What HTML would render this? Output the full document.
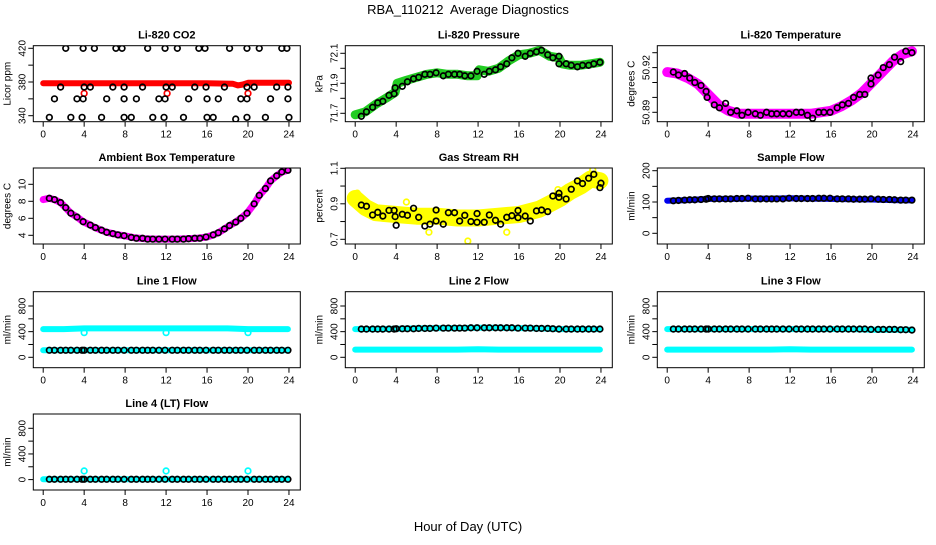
<!DOCTYPE html>
<html><head><meta charset="utf-8">
<style>
html,body{margin:0;padding:0;background:#fff;}
svg text{font-family:"Liberation Sans",Arial,sans-serif;fill:#000;}
</style></head>
<body>
<svg id="c" width="936" height="540" viewBox="0 0 936 540" xmlns="http://www.w3.org/2000/svg">
<rect width="936" height="540" fill="#fff"/>
<text x="468" y="14" text-anchor="middle" font-size="13" style="white-space:pre">RBA_110212&#160; Average Diagnostics</text>
<text x="468" y="531" text-anchor="middle" font-size="13">Hour of Day (UTC)</text>
</svg>
<script>
const xTicks = [0,4,8,12,16,20,24];
const flowHours = [0.6,1.1,1.7,2.2,2.7,3.3,3.8,4.0,4.6,5.1,5.7,6.2,6.8,7.3,7.9,8.6,9.1,9.7,10.2,10.7,11.3,11.9,12.6,13.1,13.7,14.2,14.8,15.3,15.9,16.6,17.1,17.7,18.2,18.8,19.3,19.9,20.6,21.1,21.7,22.2,22.8,23.3,23.9];
const bandHours = [0,2,4,6,8,10,12,14,16,18,20,22,23.9];

// CO2
const co2BandHours = [0,4,8,12,16,18.5,19,19.5,20,24];
const co2Band = [378.5,378.5,378.5,378.5,378.5,378,376,377,379,379];
const co2PtHours = [2.2,3.9,5.0,7.1,7.7,10.2,11.9,13.1,15.2,15.8,18.2,19.9,21.1,23.3,23.8,
 1.7,4.0,4.6,6.8,7.9,9.7,12.0,12.6,14.8,15.9,17.7,19.9,20.6,22.8,23.9,
 1.1,3.3,3.9,6.2,7.9,9.1,11.3,11.9,14.2,16.0,17.1,19.3,19.9,22.2,23.9,
 0.6,2.7,3.8,5.7,7.9,8.6,10.7,11.8,13.7,16.0,16.6,18.8,19.9,21.7,24.0];
const co2Pts = [420,420,420,420,420,420,420,420,420,420,420,420,420,420,420,
 374,374,374,374,374,374,374,374,374,374,374,374,374,374,374,
 360,360,360,360,360,360,360,360,360,360,360,360,360,360,360,
 338,338,338,338,338,338,338,338,338,338,338,336,338,338,338];
const co2OutHours = [4.0,12.1,20.0];
const co2Out = [366.5,366.5,366.5];

// Pressure
const presBandHours = [0,1,2,3,3.9,4.1,5,6,7,8,9,10,11,11.9,12.1,13,14,15,16,17,18,19,19.9,20.2,21,22,23,23.9];
const presBand = [71.69,71.71,71.76,71.8,71.84,71.9,71.92,71.94,71.96,71.97,71.96,71.96,71.95,71.95,71.99,71.98,72.0,72.05,72.09,72.1,72.12,72.08,72.07,72.03,72.02,72.02,72.03,72.04];
const presPtHours = [0.6,1.1,1.7,2.2,2.7,3.3,3.8,3.9,4.6,5.1,5.7,6.2,6.8,7.3,7.9,8.6,9.1,9.7,10.2,10.7,11.3,11.9,12.6,13.1,13.7,14.2,14.8,15.3,15.9,16.6,17.1,17.7,18.2,18.8,19.3,19.9,19.9,20.6,21.1,21.7,22.2,22.8,23.3,23.9];
const presPts = [71.68,71.71,71.74,71.77,71.78,71.82,71.83,71.87,71.88,71.91,71.93,71.94,71.96,71.96,71.97,71.95,71.96,71.96,71.96,71.95,71.95,71.98,71.96,71.98,71.99,72.01,72.03,72.07,72.10,72.08,72.10,72.11,72.12,72.09,72.07,72.08,72.03,72.03,72.02,72.01,72.02,72.02,72.03,72.04];

// Li-820 temperature
const ltBandHours = [0,1,2,3,4,5,6,7,8,10,12,14,15,16,17,18,19,20,21,22,23,23.9];
const ltBand = [50.917,50.916,50.913,50.909,50.902,50.895,50.891,50.889,50.889,50.889,50.889,50.889,50.890,50.891,50.894,50.898,50.903,50.910,50.917,50.924,50.929,50.931];
const ltPtHours = [0.6,1.1,1.7,2.2,2.7,3.3,3.8,3.9,4.6,5.1,5.7,6.2,6.8,7.3,7.9,8.6,9.1,9.7,10.2,10.7,11.3,11.9,12.6,13.1,13.7,14.2,14.8,15.3,15.9,16.6,17.1,17.7,18.2,18.8,19.3,19.9,19.9,20.6,21.1,21.7,22.2,22.8,23.3,23.9];
const ltPts = [50.917,50.915,50.916,50.913,50.910,50.908,50.904,50.900,50.895,50.893,50.896,50.890,50.891,50.888,50.890,50.889,50.888,50.890,50.889,50.889,50.889,50.889,50.890,50.890,50.888,50.886,50.890,50.890,50.890,50.893,50.895,50.896,50.900,50.902,50.902,50.909,50.913,50.915,50.920,50.922,50.927,50.924,50.931,50.930];

// Ambient box temperature
const ambBandHours = [0,0.6,1.1,1.7,2.2,2.7,3.3,3.9,4.6,5.1,5.7,6.2,6.8,7.3,7.9,9,10,11,12,13,14,15,16,16.6,17.1,17.7,18.2,18.8,19.3,19.9,20.6,21.1,21.7,22.2,22.8,23.3,23.9];
const ambBand = [8.2,8.35,8.2,7.85,7.25,6.6,6.15,5.6,5.2,4.9,4.6,4.35,4.2,4.05,3.95,3.7,3.6,3.55,3.55,3.55,3.6,3.65,3.8,4.05,4.3,4.75,5.15,5.55,6.0,6.6,7.7,8.7,9.5,10.4,11.0,11.45,11.65];
const ambPtHours = [0.6,1.1,1.7,2.2,2.7,3.3,3.9,4.6,5.1,5.7,6.2,6.8,7.3,7.9,8.6,9.1,9.7,10.2,10.7,11.3,11.9,12.6,13.1,13.7,14.2,14.8,15.3,15.9,16.6,17.1,17.7,18.2,18.8,19.3,19.9,20.6,21.1,21.7,22.2,22.8,23.3,23.9];
const ambPts = [8.35,8.2,7.85,7.25,6.6,6.15,5.6,5.2,4.9,4.6,4.35,4.2,4.05,3.95,3.75,3.65,3.65,3.55,3.55,3.55,3.55,3.55,3.55,3.55,3.6,3.65,3.65,3.8,4.05,4.3,4.75,5.15,5.55,6.0,6.6,7.7,8.7,9.5,10.4,11.0,11.45,11.65];

// Gas stream RH
const rhBandHours = [0,1,2,4,6,8,10,12,14,16,18,19,20,21,22,23,23.9];
const rhBand = [0.93,0.88,0.85,0.84,0.83,0.83,0.82,0.82,0.83,0.84,0.87,0.9,0.93,0.97,1.0,1.04,1.03];
const rhOutHours = [0.2,5.0,7.2,11.0,14.8,19.8,23.2];
const rhOut = [0.96,0.91,0.74,0.69,0.74,0.98,1.09];
const rhPtHours = [0.6,1.1,1.7,2.2,2.7,3.3,3.8,3.9,4.0,4.6,5.1,5.7,6.2,6.8,7.3,7.9,7.9,8.6,9.1,9.7,10.2,10.7,11.3,11.9,11.9,12.6,13.1,13.7,14.2,14.8,15.3,15.9,15.9,16.6,17.1,17.7,18.2,18.8,19.3,19.9,19.9,20.6,21.1,21.7,22.2,22.8,23.3,23.9,24.0];
const rhPts = [0.893,0.886,0.837,0.852,0.831,0.863,0.863,0.828,0.779,0.841,0.835,0.875,0.824,0.775,0.785,0.865,0.803,0.785,0.850,0.850,0.803,0.835,0.800,0.845,0.796,0.796,0.837,0.807,0.785,0.824,0.833,0.862,0.822,0.831,0.803,0.860,0.865,0.856,0.944,0.959,0.937,0.927,0.982,1.029,1.014,1.044,1.066,0.991,1.016];

// Sample flow
const sfBand = [104,106,110,110,111,111,112,111,110,109,108,106,105];
const sfPts = [104,105,106,107,107,108,109,111,110,110,110,110,111,111,112,110,110,110,110,110,110,112,111,111,111,111,112,112,112,110,110,110,109,109,109,110,109,108,108,107,106,106,106];

// Line flows
const l1BandHi = [440,440,450,450,450,450,450,450,450,450,440,440,440];
const l1BandLo = [110,110,110,110,110,110,110,110,110,110,110,110,110];
const l1Pts = [110,110,110,110,110,110,110,110,110,110,110,110,110,110,110,110,110,110,110,110,110,110,110,110,110,110,110,110,110,110,110,110,110,110,110,110,110,110,110,110,110,110,110];
const l1OutHours = [4.0,12.0,20.0];
const l1Out = [385,385,385];
const l2BandHi = [440,440,445,450,455,455,460,460,455,450,440,440,440];
const l2BandLo = [120,120,120,120,120,120,125,120,120,120,120,120,120];
const l2Pts = [440,440,440,440,440,440,440,445,445,445,445,450,450,450,455,455,455,455,455,455,460,460,460,460,460,460,460,460,455,455,455,450,450,450,445,440,440,440,440,440,440,440,440];
const l3BandHi = [440,440,440,440,440,440,440,440,440,440,430,430,430];
const l3BandLo = [120,120,120,120,120,120,125,120,120,120,120,120,120];
const l3Pts = [440,440,440,440,440,440,440,440,440,440,440,440,440,440,440,440,440,440,440,440,440,440,440,440,440,440,440,440,440,440,440,440,440,440,440,435,435,435,435,435,430,430,425];
const l4Band = [5,5,5,5,5,5,5,5,5,5,5,5,5];
const l4Pts = [5,5,5,5,5,5,5,5,5,5,5,5,5,5,5,5,5,5,5,5,5,5,5,5,5,5,5,5,5,5,5,5,5,5,5,5,5,5,5,5,5,5,5];
const l4OutHours = [4.0,12.0,20.0];
const l4Out = [135,135,135];

const NS = "http://www.w3.org/2000/svg";
const svg = document.getElementById('c');
const colLeft = [33.3,345.3,657.3];
const rowTop = [45.7,168,291.7,414];
const BW = 267, BH = 76;

function mk(tag, attrs, parent){
  const e = document.createElementNS(NS, tag);
  for (const k in attrs) e.setAttribute(k, attrs[k]);
  (parent||svg).appendChild(e);
  return e;
}

function panel(p){
  const L = colLeft[p.col], T = rowTop[p.row];
  const g = mk('g', {});
  
  
  const xs = h => L + 9.9 + h * 10.24;
  const ys = v => T + p.a[1] + (v - p.a[0]) * (p.b[1] - p.a[1]) / (p.b[0] - p.a[0]);
  p.xs = xs; p.ys = ys; p.g = g;
  const t = mk('text', {x: L + BW/2, y: T - 7, 'text-anchor': 'middle', 'font-size': 11, 'font-weight': 'bold'}, g);
  t.textContent = p.title;
  
  
  const yl = mk('text', {x: 0, y: 0, 'text-anchor': 'middle', 'font-size': 10, transform: `translate(${L-23},${T+BH/2}) rotate(-90)`}, g);
  yl.textContent = p.ylab;
  
  
  xTicks.forEach(h => {
    mk('line', {x1: xs(h), x2: xs(h), y1: T+BH, y2: T+BH+5, stroke: '#000', 'stroke-width': 1}, g);
    const tl = mk('text', {x: xs(h), y: T+BH+16, 'text-anchor': 'middle', 'font-size': 10}, g);
    tl.textContent = h;
    
    
  });
  p.yticks.forEach(v => {
    mk('line', {x1: L-5, x2: L, y1: ys(v), y2: ys(v), stroke: '#000', 'stroke-width': 1}, g);
  });
  p.ylabels.forEach((v, i) => {
    const lab = mk('text', {x: 0, y: 0, 'text-anchor': 'middle', 'font-size': 10, transform: `translate(${L-8},${ys(v)}) rotate(-90)`}, g);
    lab.textContent = p.ylabelText ? p.ylabelText[i] : v;
    
    
  });
  const clip = mk('clipPath', {id: 'clip-' + p.name}, g);
  mk('rect', {x: L, y: T, width: BW, height: BH}, clip);
  p.plot = mk('g', {'clip-path': `url(#clip-${p.name})`}, g);
  p.L = L; p.T = T;
  return p;
}

function band(p, hours, vals, color, width, nm){
  const pts = hours.map((h, i) => `${p.xs(h).toFixed(1)},${p.ys(vals[i]).toFixed(1)}`).join(' ');
  const pl = mk('polyline', {points: pts, fill: 'none', stroke: color, 'stroke-width': width, 'stroke-linecap': 'round', 'stroke-linejoin': 'round'}, p.plot);
  
  
}
function circles(p, hours, vals, color, nm, r){
  hours.forEach((h, i) => {
    const c = mk('circle', {cx: p.xs(h), cy: p.ys(vals[i]), r: r || 2.8, fill: 'none', stroke: color, 'stroke-width': 1.7}, p.plot);
    
    
  });
}
function frame(p){
  const b = mk('rect', {x: p.L, y: p.T, width: BW, height: BH, fill: 'none', stroke: '#000', 'stroke-width': 1}, p.g);
  
  
}

let p;
p = panel({name:'co2', title:'Li-820 CO2', ylab:'Licor ppm', col:0,row:0, a:[420,2.6], b:[340,70], yticks:[340,360,380,400,420], ylabels:[340,380,420]});
band(p, co2BandHours, co2Band, '#ff0000', 6, 'co2-band');
circles(p, co2OutHours, co2Out, '#ff0000', 'co2-outlier');
circles(p, co2PtHours, co2Pts, '#000', 'co2-average-point');
frame(p);

p = panel({name:'pressure', title:'Li-820 Pressure', ylab:'kPa', col:1,row:0, a:[72.1,7.6], b:[71.7,67.6], yticks:[71.7,71.8,71.9,72.0,72.1], ylabels:[71.7,71.9,72.1], ylabelText:['71.7','71.9','72.1']});
band(p, presBandHours, presBand, '#22cc22', 9, 'pressure-band');
circles(p, presPtHours, presPts, '#000', 'pressure-average-point');
frame(p);

p = panel({name:'licor-temp', title:'Li-820 Temperature', ylab:'degrees C', col:2,row:0, a:[50.92,21.9], b:[50.89,66.6], yticks:[50.89,50.90,50.91,50.92,50.93], ylabels:[50.89,50.92], ylabelText:['50.89','50.92']});
band(p, ltBandHours, ltBand, '#ff00ff', 10, 'licor-temp-band');
circles(p, ltPtHours, ltPts, '#000', 'licor-temp-average-point');
frame(p);

p = panel({name:'ambient-temp', title:'Ambient Box Temperature', ylab:'degrees C', col:0,row:1, a:[10,16.3], b:[4,67.3], yticks:[4,6,8,10], ylabels:[4,6,8,10]});
band(p, ambBandHours, ambBand, '#ff00ff', 7, 'ambient-temp-band');
circles(p, ambPtHours, ambPts, '#000', 'ambient-temp-average-point');
frame(p);

p = panel({name:'rh', title:'Gas Stream RH', ylab:'percent', col:1,row:1, a:[1.1,0.3], b:[0.7,71.3], yticks:[0.7,0.8,0.9,1.0,1.1], ylabels:[0.7,0.9,1.1], ylabelText:['0.7','0.9','1.1']});
band(p, rhBandHours, rhBand, '#ffff00', 17, 'rh-band');
circles(p, rhOutHours, rhOut, '#ffff00', 'rh-outlier');
circles(p, rhPtHours, rhPts, '#000', 'rh-average-point');
frame(p);

p = panel({name:'sample-flow', title:'Sample Flow', ylab:'ml/min', col:2,row:1, a:[200,2.7], b:[0,65.3], yticks:[0,50,100,150,200], ylabels:[0,100,200]});
band(p, bandHours, sfBand, '#0000ee', 6, 'sample-flow-band');
circles(p, flowHours, sfPts, '#000', 'sample-flow-average-point');
frame(p);

const fa = [800,14.3], fb = [0,65.6], ft = [0,200,400,600,800], fl = [0,400,800];
p = panel({name:'line1-flow', title:'Line 1 Flow', ylab:'ml/min', col:0,row:2, a:fa, b:fb, yticks:ft, ylabels:fl});
band(p, bandHours, l1BandHi, '#00ffff', 6, 'line1-band-high');
band(p, bandHours, l1BandLo, '#00ffff', 6, 'line1-band-low');
circles(p, l1OutHours, l1Out, '#00ffff', 'line1-outlier');
circles(p, flowHours, l1Pts, '#000', 'line1-average-point');
frame(p);

p = panel({name:'line2-flow', title:'Line 2 Flow', ylab:'ml/min', col:1,row:2, a:fa, b:fb, yticks:ft, ylabels:fl});
band(p, bandHours, l2BandHi, '#00ffff', 6, 'line2-band-high');
band(p, bandHours, l2BandLo, '#00ffff', 6, 'line2-band-low');
circles(p, flowHours, l2Pts, '#000', 'line2-average-point');
frame(p);

p = panel({name:'line3-flow', title:'Line 3 Flow', ylab:'ml/min', col:2,row:2, a:fa, b:fb, yticks:ft, ylabels:fl});
band(p, bandHours, l3BandHi, '#00ffff', 6, 'line3-band-high');
band(p, bandHours, l3BandLo, '#00ffff', 6, 'line3-band-low');
circles(p, flowHours, l3Pts, '#000', 'line3-average-point');
frame(p);

p = panel({name:'line4-flow', title:'Line 4 (LT) Flow', ylab:'ml/min', col:0,row:3, a:fa, b:fb, yticks:ft, ylabels:fl});
band(p, bandHours, l4Band, '#00ffff', 6, 'line4-band');
circles(p, l4OutHours, l4Out, '#00ffff', 'line4-outlier');
circles(p, flowHours, l4Pts, '#000', 'line4-average-point');
frame(p);
</script>
</body></html>
